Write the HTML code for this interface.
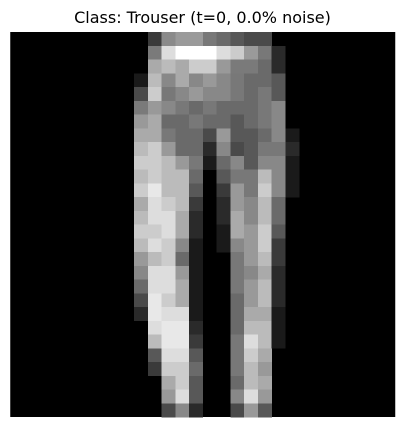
<!DOCTYPE html>
<html><head><meta charset="utf-8"><style>
html,body{margin:0;padding:0;background:#fff;width:404px;height:427px;overflow:hidden}
</style></head><body>
<svg id="chart" width="404" height="427" viewBox="0 0 404 427" xmlns="http://www.w3.org/2000/svg">
<text x="202.5" y="23" text-anchor="middle" font-family="DejaVu Sans, Liberation Sans, sans-serif" font-size="16" fill="#000">Class: Trouser (t=0, 0.0% noise)</text>
<rect x="10.25" y="32" width="385" height="385" fill="#000"/>
<g id="cells" shape-rendering="crispEdges"></g>
</svg>
<script>
const gridSize = 28;
const rowStart = 9;
const pixelRows = [
"00,3a,8a,9a,9a,78,6a,58,4a,4a,00,00",
"00,7a,dd,ff,ff,ff,dd,cc,9a,78,2a,00",
"00,aa,bb,aa,cc,cc,99,7a,7a,6a,2a,00",
"1a,bb,88,aa,88,99,88,78,6a,6a,58,00",
"4a,cc,78,88,99,88,88,78,6a,78,58,00",
"7a,99,88,78,6a,78,6a,6a,6a,78,88,00",
"99,aa,6a,6a,78,6a,6a,58,6a,78,88,00",
"aa,aa,78,6a,6a,4a,99,58,58,6a,88,1a",
"bb,cc,99,6a,6a,2a,88,4a,58,78,78,2a",
"cc,cc,bb,99,78,1a,6a,88,58,88,88,1a",
"bb,cc,bb,bb,6a,00,58,78,78,bb,88,1a",
"cc,e8,bb,bb,58,00,3a,99,78,cc,88,1a",
"aa,dd,cc,bb,3a,00,2a,99,88,bb,6a,00",
"bb,dd,dd,aa,2a,00,2a,aa,88,bb,6a,00",
"cc,cc,dd,aa,2a,00,1a,aa,99,cc,58,00",
"bb,dd,cc,88,1a,00,1a,88,99,cc,3a,00",
"99,bb,cc,6a,1a,00,00,78,99,bb,3a,00",
"88,dd,dd,99,1a,00,00,78,88,aa,2a,00",
"6a,dd,dd,aa,1a,00,00,78,99,bb,2a,00",
"4a,e8,cc,aa,1a,00,00,6a,99,bb,2a,00",
"2a,e8,dd,dd,1a,00,00,6a,aa,aa,1a,00",
"00,dd,e8,e8,2a,00,00,6a,bb,bb,1a,00",
"00,bb,e8,e8,3a,00,00,78,dd,bb,1a,00",
"00,58,dd,dd,58,00,00,78,cc,aa,00,00",
"00,3a,cc,cc,6a,00,00,78,bb,99,00,00",
"00,00,aa,cc,58,00,00,6a,bb,aa,00,00",
"00,00,99,dd,58,00,00,88,dd,99,00,00",
"00,00,4a,88,2a,00,00,4a,99,58,00,00"
];
const X0 = 10.25, Y0 = 32, SIZE = 385;
const cell = SIZE / gridSize;
function xPos(c){ return X0 + c * cell; }
function yPos(r){ return Y0 + r * cell; }
const g = document.getElementById('cells');
const NS = 'http://www.w3.org/2000/svg';
pixelRows.forEach((row, r) => {
  row.split(',').forEach((h, i) => {
    const v = parseInt(h, 16);
    if (!v) return;
    const c = rowStart + i;
    const el = document.createElementNS(NS, 'rect');
    
    
    el.setAttribute('x', xPos(c).toFixed(2));
    el.setAttribute('y', yPos(r).toFixed(2));
    el.setAttribute('width', (cell + 0.4).toFixed(2));
    el.setAttribute('height', (cell + 0.4).toFixed(2));
    el.setAttribute('fill', `rgb(${v},${v},${v})`);
    g.appendChild(el);
  });
});
</script>
</body></html>
